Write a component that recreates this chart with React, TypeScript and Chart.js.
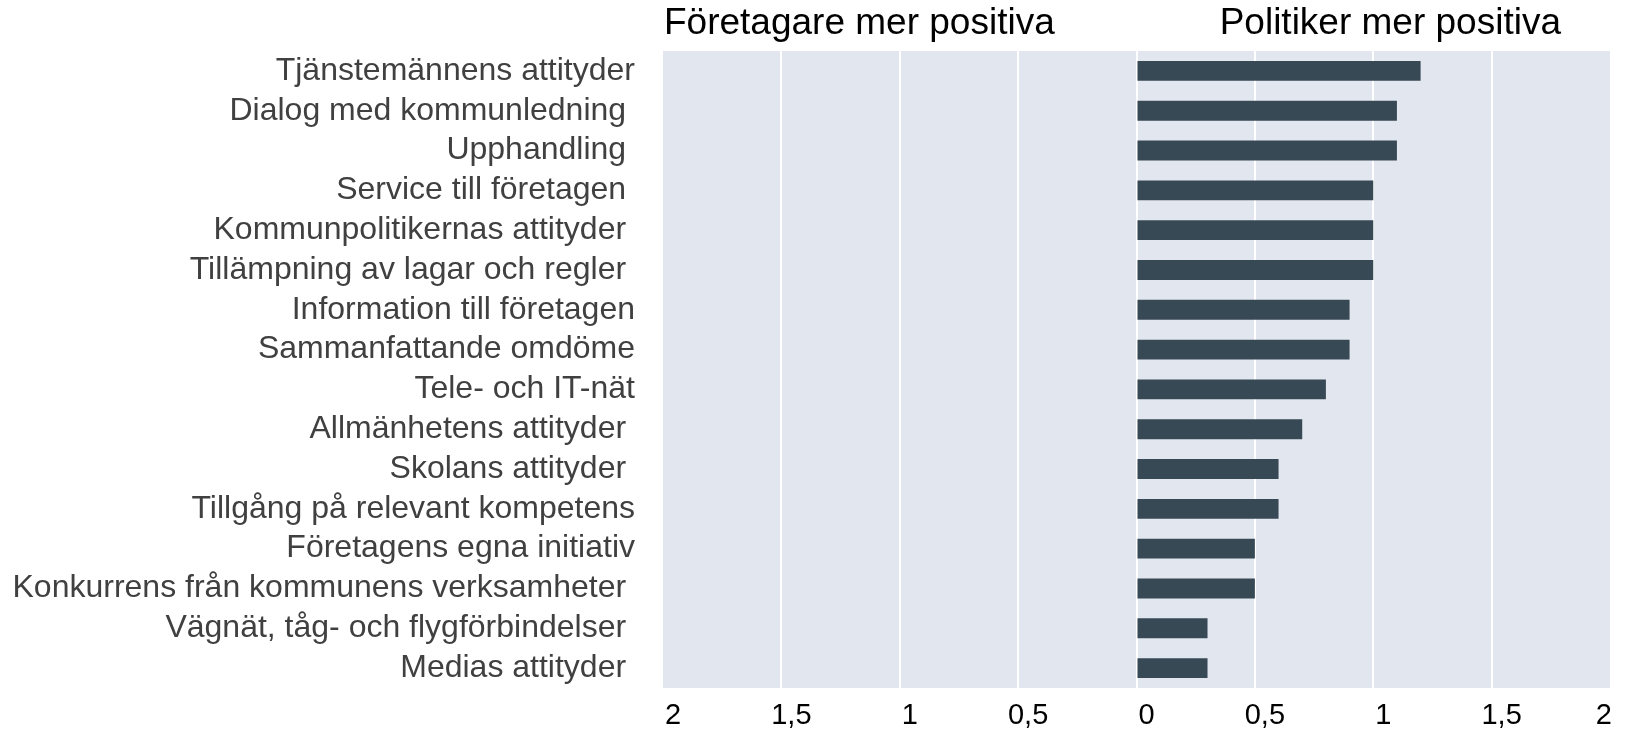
import React, { useEffect, useRef } from "react";
import { Chart, registerables } from "chart.js";

Chart.register(...registerables);

const categories: string[] = [
  "Tjänstemännens attityder",
  "Dialog med kommunledning ",
  "Upphandling ",
  "Service till företagen ",
  "Kommunpolitikernas attityder ",
  "Tillämpning av lagar och regler ",
  "Information till företagen",
  "Sammanfattande omdöme",
  "Tele- och IT-nät",
  "Allmänhetens attityder ",
  "Skolans attityder ",
  "Tillgång på relevant kompetens",
  "Företagens egna initiativ",
  "Konkurrens från kommunens verksamheter ",
  "Vägnät, tåg- och flygförbindelser ",
  "Medias attityder ",
];

const values: number[] = [1.2, 1.1, 1.1, 1.0, 1.0, 1.0, 0.9, 0.9, 0.8, 0.7, 0.6, 0.6, 0.5, 0.5, 0.3, 0.3];

const leftTitle = "Företagare mer positiva";
const rightTitle = "Politiker mer positiva";

const xMin = -2;
const xMax = 2;
const xStep = 0.5;

const FONT = '"Liberation Sans", Arial, sans-serif';

export default function App() {
  const ref = useRef<HTMLCanvasElement | null>(null);

  useEffect(() => {
    if (!ref.current) return;
    const bgPlugin = {
      id: "plotBg",
      beforeDraw(chart: any) {
        const { ctx, chartArea } = chart;
        ctx.save();
        ctx.fillStyle = "#E2E7EF";
        ctx.fillRect(chartArea.left, chartArea.top, chartArea.right - chartArea.left, chartArea.bottom - chartArea.top);
        ctx.restore();
      },
    };
    const titlesPlugin = {
      id: "sideTitles",
      afterDraw(chart: any) {
        const { ctx, chartArea } = chart;
        ctx.save();
        ctx.font = `37px ${FONT}`;
        ctx.fillStyle = "#000000";
        ctx.textBaseline = "alphabetic";
        ctx.textAlign = "left";
        ctx.fillText(leftTitle, chartArea.left + 1, 34);
        ctx.textAlign = "right";
        ctx.fillText(rightTitle, chartArea.right - 49, 34);
        ctx.restore();
      },
    };
    const chart = new Chart(ref.current, {
      type: "bar",
      data: {
        labels: categories,
        datasets: [
          {
            data: values,
            backgroundColor: "#384956",
            borderWidth: 0,
            barPercentage: 0.5,
            categoryPercentage: 1,
          },
        ],
      },
      options: {
        indexAxis: "y",
        animation: false,
        responsive: false,
        devicePixelRatio: 1,
        layout: { padding: { top: 51, right: 15, bottom: 0, left: 0 } },
        plugins: { legend: { display: false }, tooltip: { enabled: false }, title: { display: false } },
        scales: {
          x: {
            min: xMin,
            max: xMax,
            afterFit: (s: any) => {
              s.height = 41;
              s.paddingLeft = 0;
              s.paddingRight = 0;
            },
            ticks: {
              stepSize: xStep,
              color: "#000000",
              font: { family: FONT, size: 29 },
              padding: 11,
              labelOffset: 10,
              maxRotation: 0,
              autoSkip: false,
              callback: (v: any) => {
                const s = String(Math.abs(Number(v))).replace(".", ",");
                return Number(v) === xMax ? s + "    " : s;
              },
            },
            grid: {
              drawTicks: false,
              lineWidth: 2,
              color: (c: any) => (c.tick && (c.tick.value === xMin || c.tick.value === xMax) ? "rgba(0,0,0,0)" : "#FFFFFF"),
            },
            border: { display: false },
          },
          y: {
            afterFit: (s: any) => {
              s.width = 663;
              s.paddingTop = 0;
              s.paddingBottom = 0;
            },
            ticks: {
              color: "#404040",
              font: { family: FONT, size: 32 },
              padding: 28,
              autoSkip: false,
            },
            grid: { display: false, drawTicks: false },
            border: { display: false },
          },
        },
      },
      plugins: [bgPlugin, titlesPlugin],
    });
    return () => chart.destroy();
  }, []);

  return (
    <div style={{ position: "absolute", left: 0, top: 0, width: 1625, height: 729, background: "#FFFFFF" }}>
      <canvas ref={ref} width={1625} height={729} style={{ display: "block", width: 1625, height: 729 }} />
    </div>
  );
}
